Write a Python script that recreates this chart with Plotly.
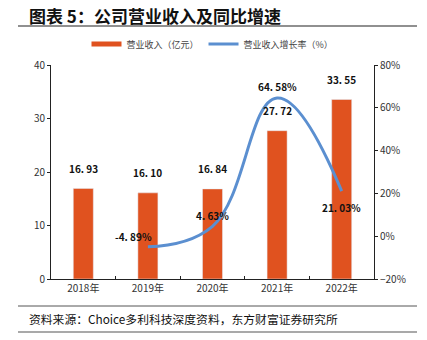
import plotly.graph_objects as go

years = ["2018年", "2019年", "2020年", "2021年", "2022年"]
revenue = [16.93, 16.10, 16.84, 27.72, 33.55]
growth_years = ["2019年", "2020年", "2021年", "2022年"]
growth = [-4.89, 4.63, 64.58, 21.03]

BAR = "#E0521F"
LINE = "#5B8FD0"
FONT = "Noto Sans CJK SC"

fig = go.Figure()
fig.add_trace(go.Bar(x=years, y=revenue, marker_color=BAR, width=0.31, showlegend=False))
fig.add_trace(go.Scatter(x=[None], y=[None], mode="lines", name="营业收入（亿元）",
                         line=dict(color=BAR, width=5)))
fig.add_trace(go.Scatter(
    x=growth_years, y=growth, name="营业收入增长率（%）", yaxis="y2", mode="lines",
    line=dict(color=LINE, width=3, shape="spline", smoothing=1.2),
))

for xv, yv in zip(years, revenue):
    fig.add_annotation(x=xv, y=yv, text="<b>" + f"{yv:.2f}".replace(".", ". ") + "</b>",
                       showarrow=False, yshift=20,
                       font=dict(size=10, color="#111", family=FONT))

shifts = [(-14, 10), (0, 11), (0, 12), (0, -16)]
for xv, yv, (dx, dy) in zip(growth_years, growth, shifts):
    fig.add_annotation(x=xv, y=yv, yref="y2", text="<b>" + f"{yv:.2f}".replace(".", ". ") + "%</b>",
                       showarrow=False, xshift=dx, yshift=dy,
                       font=dict(size=10, color="#111", family=FONT))

# title, rules, source
W0, H0 = 323, 214
def px(x): return (x - 51) / W0
def py(y): return (279 - y) / H0

fig.add_annotation(xref="paper", yref="paper", x=px(27), y=py(15), xanchor="left", yanchor="middle",
                   text="<b>图表 5：公司营业收入及同比增速</b>", showarrow=False,
                   font=dict(size=17, color="#111", family=FONT))
fig.add_shape(type="line", xref="paper", yref="paper", x0=px(18), x1=px(417), y0=py(26), y1=py(26),
              line=dict(color="#222", width=1.2))
fig.add_shape(type="line", xref="paper", yref="paper", x0=px(18), x1=px(417), y0=py(306), y1=py(306),
              line=dict(color="#555", width=1))
fig.add_shape(type="line", xref="paper", yref="paper", x0=px(18), x1=px(417), y0=py(332), y1=py(332),
              line=dict(color="#555", width=1.2))
fig.add_annotation(xref="paper", yref="paper", x=px(27), y=py(318), xanchor="left", yanchor="middle",
                   text="资料来源：Choice多利科技深度资料，东方财富证券研究所", showarrow=False,
                   font=dict(size=11.8, color="#111", family=FONT))

fig.update_layout(
    width=427, height=340, margin=dict(l=51, r=53, t=65, b=61),
    paper_bgcolor="white", plot_bgcolor="white",
    font=dict(family=FONT, size=10, color="#222"),
    showlegend=True,
    legend=dict(orientation="h", x=0.5, xanchor="center", y=py(44), yanchor="middle",
                font=dict(size=9, color="#444", family=FONT),
                bgcolor="rgba(0,0,0,0)"),
    bargap=0.5,
    xaxis=dict(showline=True, linecolor="#222", linewidth=1, ticks="inside", tickson="boundaries",
               ticklen=3, tickcolor="#222", showgrid=False,
               tickfont=dict(size=10, color="#333")),
    yaxis=dict(range=[0, 40], dtick=10, showline=True, linecolor="#222", linewidth=1,
               ticks="outside", ticklen=3, tickcolor="#222", showgrid=False, zeroline=False,
               tickfont=dict(size=10, color="#333")),
    yaxis2=dict(range=[-20, 80], dtick=20, overlaying="y", side="right", showline=True,
                linecolor="#222", linewidth=1, ticks="outside", ticklen=3, tickcolor="#222",
                showgrid=False, zeroline=False, ticksuffix="%",
                tickfont=dict(size=10, color="#333")),
)

fig.write_html("out.html")
